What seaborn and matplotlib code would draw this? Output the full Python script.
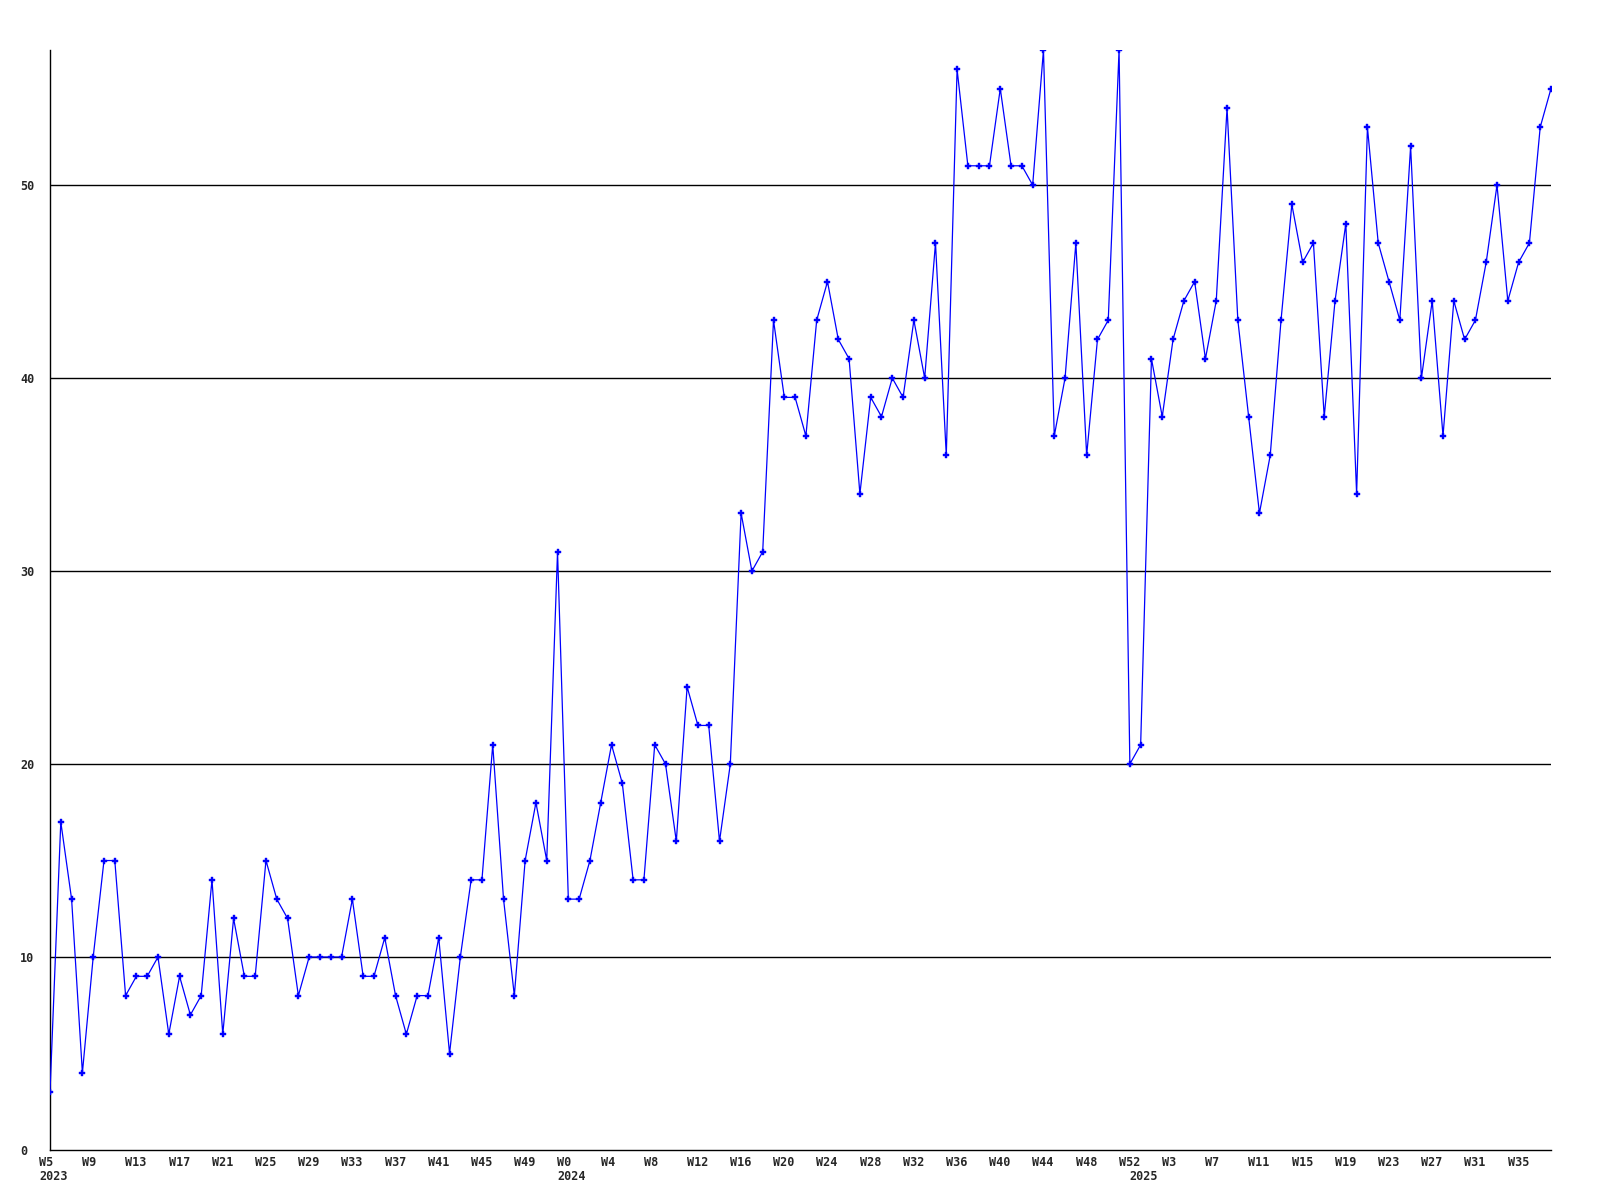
import matplotlib
matplotlib.use("Agg")
import matplotlib.pyplot as plt
import matplotlib.transforms as mtransforms
import numpy as np
import pandas as pd
import seaborn as sns

# weekly counts, 2023 W5 .. 2025 W38
values_2023 = [3, 17, 13, 4, 10, 15, 15, 8, 9, 9, 10, 6, 9, 7, 8, 14, 6, 12, 9, 9,
               15, 13, 12, 8, 10, 10, 10, 10, 13, 9, 9, 11, 8, 6, 8, 8, 11, 5, 10, 14,
               14, 21, 13, 8, 15, 18, 15, 31]
values_2024 = [13, 13, 15, 18, 21, 19, 14, 14, 21, 20, 16, 24, 22, 22, 16, 20, 33, 30,
               31, 43, 39, 39, 37, 43, 45, 42, 41, 34, 39, 38, 40, 39, 43, 40, 47, 36,
               56, 51, 51, 51, 55, 51, 51, 50, 57, 37, 40, 47, 36, 42, 43, 57, 20]
values_2025 = [21, 41, 38, 42, 44, 45, 41, 44, 54, 43, 38, 33, 36, 43, 49, 46, 47, 38,
               44, 48, 34, 53, 47, 45, 43, 52, 40, 44, 37, 44, 42, 43, 46, 50, 44, 46,
               47, 53, 55]
first_week_2023 = 5

weeks = ([f"W{w}" for w in range(first_week_2023, first_week_2023 + len(values_2023))]
         + [f"W{w}" for w in range(len(values_2024))]
         + [f"W{w}" for w in range(len(values_2025))])
years = (["2023"] * len(values_2023) + ["2024"] * len(values_2024)
         + ["2025"] * len(values_2025))
values = values_2023 + values_2024 + values_2025

df = pd.DataFrame({"week": weeks, "year": years, "count": values})
df["idx"] = np.arange(len(df))

sns.set_style("white")
plt.rcParams["font.family"] = ["DejaVu Sans Mono", "DejaVu Sans"]

fig = plt.figure(figsize=(16, 12), dpi=100)
ax = fig.add_axes([50 / 1600, 1 - 1150 / 1200, 1501 / 1600, 1100 / 1200])

for v in [10, 20, 30, 40, 50]:
    ax.axhline(v, color="black", lw=1.0, zorder=1)

sns.lineplot(data=df, x="idx", y="count", ax=ax, color="#0000ff", lw=0.9,
             marker="P", markersize=5, markeredgewidth=0.3, markeredgecolor="#0000ff",
             zorder=3)

ax.set_xlim(0, len(df) - 1)
ax.set_ylim(0, max(values))
ax.set_xlabel("")
ax.set_ylabel("")

for s in ["top", "right"]:
    ax.spines[s].set_visible(False)
for s in ["left", "bottom"]:
    ax.spines[s].set_color("black")
    ax.spines[s].set_linewidth(1.0)

# x tick labels: every 4th week, year under first week of each year
tick_idx = df["idx"][::4].tolist()
tick_lab = df["week"][::4].tolist()
ax.set_xticks(tick_idx, tick_lab)
ax.set_yticks([0, 10, 20, 30, 40, 50])
ax.tick_params(axis="both", length=0, labelsize=8.5, pad=0)

dx = mtransforms.ScaledTranslation(-11 / 100, -6 / 100, fig.dpi_scale_trans)
for lab in ax.get_xticklabels():
    lab.set_horizontalalignment("left")
    lab.set_fontweight("bold")
    lab.set_transform(lab.get_transform() + dx)

dy = mtransforms.ScaledTranslation(-30 / 100, 0, fig.dpi_scale_trans)
for lab in ax.get_yticklabels():
    lab.set_horizontalalignment("left")
    lab.set_fontweight("bold")
    lab.set_transform(lab.get_transform() + dy)

first_of_year = df.groupby("year")["idx"].min()
yr_off = mtransforms.ScaledTranslation(-11 / 100, -20 / 100, fig.dpi_scale_trans)
for yr, i in first_of_year.items():
    ax.text(i, 0, yr, transform=ax.get_xaxis_transform() + yr_off,
            ha="left", va="top", fontsize=8.5, fontweight="bold")

plt.savefig("out.png", dpi=100)
